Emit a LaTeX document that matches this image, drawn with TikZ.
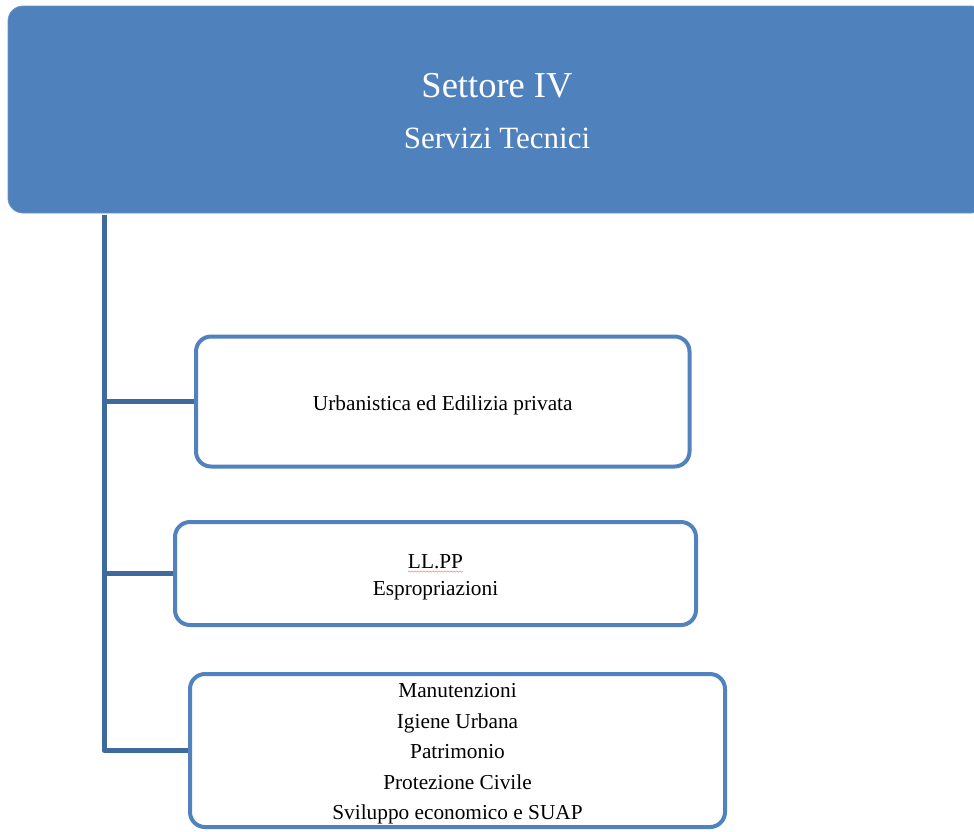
\documentclass[tikz,border=0pt]{standalone}
\usepackage{fontspec}
\setmainfont{Liberation Serif}
\usetikzlibrary{decorations.pathmorphing}

\definecolor{headblue}{HTML}{4F81BD}
\definecolor{frameblue}{HTML}{5282BE}
\definecolor{linkblue}{HTML}{3F6A9E}
\definecolor{spellred}{HTML}{F0A0A8}

\tikzset{
  headbox/.style={rectangle, rounded corners=15pt, fill=headblue, draw=headblue!85!white,
    line width=0.8pt, inner sep=0pt},
  headtext/.style={text=white, align=center, inner sep=0pt, yshift=-2pt,
    font=\fontsize{31}{51}\selectfont},
  unitbox/.style={rectangle, rounded corners=15pt, draw=frameblue, line width=4pt,
    fill=white, inner sep=0pt},
  unittext/.style={align=center, inner sep=0pt, text=black, yshift=-3.5pt,
    font=\fontsize{21.3}{#1}\selectfont},
  link/.style={draw=linkblue, line width=5pt, line join=round},
}

\begin{document}
\begin{tikzpicture}[x=1pt,y=-1pt]
  \useasboundingbox (0,0) rectangle (974,831);

  % sector header
  \node[headbox, minimum width=978pt, minimum height=207pt] (head) at (497,109.5) {};
  \node[headtext] (headtitle) at (head.center)
    {{\fontsize{36.5}{51}\selectfont Settore IV}\\Servizi Tecnici};

  % offices
  \node[unitbox, minimum width=493.5pt, minimum height=130pt] (urb) at (442.75,401.5) {};
  \node[unittext=25] (urbtext) at (urb.center) {Urbanistica ed Edilizia privata};

  \node[unitbox, minimum width=521pt, minimum height=103pt] (llpp) at (435.5,573.5) {};
  \node[unittext=27] (llpptext) at (llpp.center) {LL.PP\\Espropriazioni};

  \node[unitbox, minimum width=535pt, minimum height=153pt] (man) at (457.5,750.5) {};
  \node[unittext=30.5] (mantext) at (man.center)
    {Manutenzioni\\Igiene Urbana\\Patrimonio\\Protezione Civile\\Sviluppo economico e SUAP};

  % spell-check underline under LL.PP
  \draw[spellred, line width=0.7pt, decorate,
        decoration={snake, amplitude=0.6pt, segment length=3pt}]
    (408,571.5) -- (463,571.5);

  % tree connectors
  \coordinate (trunk) at (104,215);
  \draw[link] (trunk) |- (man.west);
  \draw[link] (trunk |- urb.west) -- (urb.west);
  \draw[link] (trunk |- llpp.west) -- (llpp.west);
\end{tikzpicture}
\end{document}
